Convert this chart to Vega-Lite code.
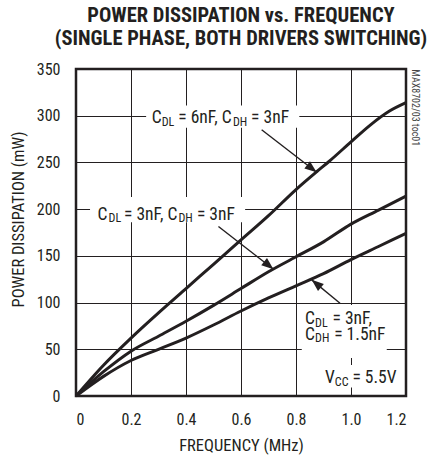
{
  "$schema": "https://vega.github.io/schema/vega-lite/v6.json",
  "width": 330,
  "height": 327,
  "autosize": "none",
  "padding": {"left": 76, "top": 69, "right": 24, "bottom": 64},
  "background": "white",
  "title": {
    "text": ["POWER DISSIPATION vs. FREQUENCY", "(SINGLE PHASE, BOTH DRIVERS SWITCHING)"],
    "font": "Roboto Condensed, Roboto, sans-serif",
    "fontSize": 20.5,
    "fontWeight": "bold",
    "lineHeight": 22.5,
    "color": "#231f20",
    "anchor": "middle",
    "offset": 12
  },
  "config": {
    "view": {"stroke": "#231f20", "strokeWidth": 2.5},
    "axis": {
      "domain": false,
      "ticks": false,
      "tickSize": 0,
      "grid": true,
      "gridColor": "#231f20",
      "gridWidth": 1,
      "gridOpacity": 1,
      "labelFont": "Roboto Condensed, Roboto, sans-serif",
      "labelFontSize": 16,
      "labelColor": "#231f20",
      "titleFont": "Roboto Condensed, Roboto, sans-serif",
      "titleFontSize": 16.5,
      "titleFontWeight": "normal",
      "titleColor": "#231f20"
    }
  },
  "layer": [
    {
      "data": {"values": [
        {"x": 0.255, "x2": 0.812, "y": 287, "y2": 311},
        {"x": 0.051, "x2": 0.615, "y": 186, "y2": 213},
        {"x": 0.821, "x2": 1.13, "y": 40.7, "y2": 97.5},
        {"x": 0.88, "x2": 1.19, "y": 9, "y2": 33.2}
      ]},
      "mark": {"type": "rect", "fill": "white", "stroke": null},
      "encoding": {
        "x": {"field": "x", "type": "quantitative",
          "scale": {"domain": [0, 1.2], "nice": false, "zero": false},
          "axis": {
            "values": [0, 0.2, 0.4, 0.6, 0.8, 1.0, 1.2],
            "labelExpr": "datum.value == 0 ? '0' : format(datum.value, '.1f')",
            "labelPadding": 15,
            "title": "FREQUENCY (MHz)",
            "titleY": 49,
            "titleBaseline": "middle"
          }},
        "x2": {"field": "x2"},
        "y": {"field": "y", "type": "quantitative",
          "scale": {"domain": [0, 350], "nice": false},
          "axis": {
            "values": [0, 50, 100, 150, 200, 250, 300, 350],
            "labelPadding": 16,
            "title": "POWER DISSIPATION (mW)",
            "titleX": -58,
            "titleY": 150,
            "titleAngle": -90,
            "titleAlign": "center",
            "titleBaseline": "middle"
          }},
        "y2": {"field": "y2"}
      }
    },
    {
      "data": {"values": [
        {"s": "a", "f": 0, "p": 0}, {"s": "a", "f": 0.1, "p": 33}, {"s": "a", "f": 0.2, "p": 62},
        {"s": "a", "f": 0.3, "p": 89}, {"s": "a", "f": 0.4, "p": 115}, {"s": "a", "f": 0.5, "p": 141},
        {"s": "a", "f": 0.6, "p": 167}, {"s": "a", "f": 0.7, "p": 193}, {"s": "a", "f": 0.8, "p": 221},
        {"s": "a", "f": 0.875, "p": 240}, {"s": "a", "f": 0.92, "p": 251}, {"s": "a", "f": 1.0, "p": 272},
        {"s": "a", "f": 1.07, "p": 290}, {"s": "a", "f": 1.14, "p": 305}, {"s": "a", "f": 1.2, "p": 314},
        {"s": "b", "f": 0, "p": 0}, {"s": "b", "f": 0.1, "p": 26}, {"s": "b", "f": 0.2, "p": 48},
        {"s": "b", "f": 0.3, "p": 64}, {"s": "b", "f": 0.4, "p": 80}, {"s": "b", "f": 0.5, "p": 97},
        {"s": "b", "f": 0.6, "p": 115}, {"s": "b", "f": 0.7, "p": 133}, {"s": "b", "f": 0.8, "p": 149},
        {"s": "b", "f": 0.9, "p": 165}, {"s": "b", "f": 1.0, "p": 184}, {"s": "b", "f": 1.1, "p": 199},
        {"s": "b", "f": 1.2, "p": 214},
        {"s": "c", "f": 0, "p": 0}, {"s": "c", "f": 0.1, "p": 21}, {"s": "c", "f": 0.2, "p": 38},
        {"s": "c", "f": 0.3, "p": 50}, {"s": "c", "f": 0.4, "p": 62}, {"s": "c", "f": 0.5, "p": 76},
        {"s": "c", "f": 0.6, "p": 91}, {"s": "c", "f": 0.7, "p": 105}, {"s": "c", "f": 0.8, "p": 118},
        {"s": "c", "f": 0.9, "p": 131}, {"s": "c", "f": 1.0, "p": 146}, {"s": "c", "f": 1.1, "p": 160},
        {"s": "c", "f": 1.2, "p": 174}
      ]},
      "mark": {"type": "line", "color": "#231f20", "strokeWidth": 3, "interpolate": "monotone"},
      "encoding": {
        "x": {"field": "f", "type": "quantitative"},
        "y": {"field": "p", "type": "quantitative"},
        "detail": {"field": "s"}
      }
    },
    {
      "data": {"values": [
        {"x": 0.675, "y": 285, "x2": 0.875, "y2": 239.5},
        {"x": 0.518, "y": 181.4, "x2": 0.718, "y2": 135.7},
        {"x": 0.96, "y": 99.3, "x2": 0.857, "y2": 124.3}
      ]},
      "mark": {"type": "rule", "color": "#231f20", "strokeWidth": 1.4},
      "encoding": {
        "x": {"field": "x", "type": "quantitative"},
        "y": {"field": "y", "type": "quantitative"},
        "x2": {"field": "x2"},
        "y2": {"field": "y2"}
      }
    },
    {
      "data": {"values": [{"x": 0.875, "y": 239.5}]},
      "mark": {"type": "point", "shape": "M0,0L-0.38,1L0.38,1Z", "filled": true, "size": 576, "angle": 128, "color": "#231f20", "opacity": 1},
      "encoding": {
        "x": {"field": "x", "type": "quantitative"},
        "y": {"field": "y", "type": "quantitative"}
      }
    },
    {
      "data": {"values": [{"x": 0.718, "y": 135.7}]},
      "mark": {"type": "point", "shape": "M0,0L-0.38,1L0.38,1Z", "filled": true, "size": 576, "angle": 129, "color": "#231f20", "opacity": 1},
      "encoding": {
        "x": {"field": "x", "type": "quantitative"},
        "y": {"field": "y", "type": "quantitative"}
      }
    },
    {
      "data": {"values": [{"x": 0.857, "y": 124.3}]},
      "mark": {"type": "point", "shape": "M0,0L-0.38,1L0.38,1Z", "filled": true, "size": 576, "angle": 309.5, "color": "#231f20", "opacity": 1},
      "encoding": {
        "x": {"field": "x", "type": "quantitative"},
        "y": {"field": "y", "type": "quantitative"}
      }
    },
    {
      "data": {"values": [
        {"x": 0.2753, "y": 292.1, "t": "C"},
        {"x": 0.3718, "y": 292.1, "t": "= 6nF, C"},
        {"x": 0.6368, "y": 292.1, "t": "= 3nF"},
        {"x": 0.0782, "y": 188.6, "t": "C"},
        {"x": 0.1746, "y": 188.6, "t": "= 3nF, C"},
        {"x": 0.4397, "y": 188.6, "t": "= 3nF"},
        {"x": 0.8327, "y": 76.8, "t": "C"},
        {"x": 0.9329, "y": 76.8, "t": "= 3nF,"},
        {"x": 0.8327, "y": 60.0, "t": "C"},
        {"x": 0.9390, "y": 60.0, "t": "= 1.5nF"},
        {"x": 0.9055, "y": 13.6, "t": "V"},
        {"x": 1.0052, "y": 13.6, "t": "= 5.5V"}
      ]},
      "mark": {"type": "text", "align": "left", "baseline": "alphabetic", "fontSize": 17.5, "color": "#231f20",
        "font": "Roboto Condensed, Roboto, sans-serif"},
      "encoding": {
        "x": {"field": "x", "type": "quantitative"},
        "y": {"field": "y", "type": "quantitative"},
        "text": {"field": "t"}
      }
    },
    {
      "data": {"values": [
        {"x": 0.3119, "y": 289.3, "t": "DL"},
        {"x": 0.5708, "y": 289.3, "t": "DH"},
        {"x": 0.1184, "y": 185.9, "t": "DL"},
        {"x": 0.3728, "y": 185.9, "t": "DH"},
        {"x": 0.8693, "y": 74.1, "t": "DL"},
        {"x": 0.8693, "y": 57.3, "t": "DH"},
        {"x": 0.9412, "y": 10.8, "t": "CC"}
      ]},
      "mark": {"type": "text", "align": "left", "baseline": "alphabetic", "fontSize": 12, "color": "#231f20",
        "font": "Roboto Condensed, Roboto, sans-serif"},
      "encoding": {
        "x": {"field": "x", "type": "quantitative"},
        "y": {"field": "y", "type": "quantitative"},
        "text": {"field": "t"}
      }
    },
    {
      "data": {"values": [{"x": 1.233, "y": 308.5, "t": "MAX8702/03 toc01"}]},
      "mark": {"type": "text", "align": "center", "baseline": "middle", "angle": 90, "fontSize": 10, "color": "#444444",
        "font": "Roboto Condensed, Roboto, sans-serif"},
      "encoding": {
        "x": {"field": "x", "type": "quantitative"},
        "y": {"field": "y", "type": "quantitative"},
        "text": {"field": "t"}
      }
    }
  ]
}
